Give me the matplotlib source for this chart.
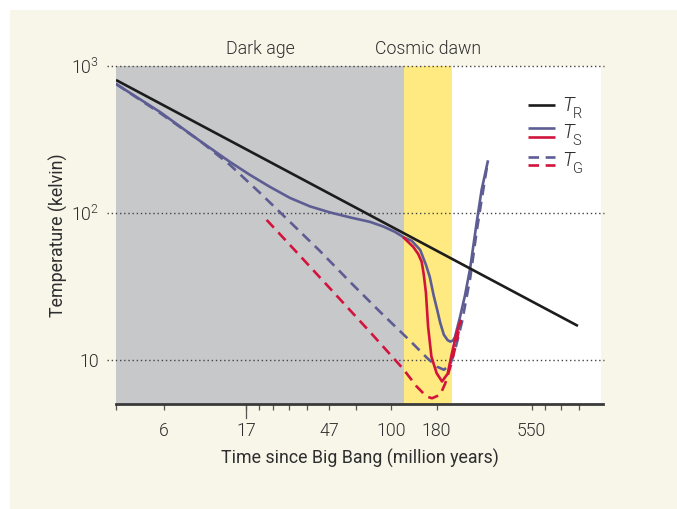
import matplotlib
matplotlib.use('Agg')
import matplotlib.pyplot as plt
from matplotlib.patches import Rectangle
import matplotlib.transforms as mtrans

FAM = 'Roboto'
plt.rcParams['font.family'] = [FAM, 'DejaVu Sans']
plt.rcParams['font.weight'] = 300
plt.rcParams['mathtext.fontset'] = 'custom'
plt.rcParams['mathtext.rm'] = FAM + ':weight=300'
plt.rcParams['mathtext.it'] = FAM + ':italic:weight=300'

# ---------------- data (x = 1+z, y = temperature in kelvin) ----------------
era_names = ['Dark age', 'Cosmic dawn', '']
era_bounds = [294.6, 26.9, 18.0, 5.23]

tr_z = [294.6, 6.33]
tr_T = [803, 17.0]

ts_blue_z = [294.6, 204.4, 146.6, 114.2, 96.7, 81.9, 69.4, 58.7, 49.8, 42.1, 35.7, 32.0, 29.0,
             26.9, 25.2, 23.5, 22.4, 21.7, 21.0, 20.4, 19.9, 19.3, 18.7, 18.3, 17.9, 17.6, 16.9,
             16.2, 15.5, 14.7, 14.1, 13.4]
ts_blue_T = [754.6, 486.6, 309.0, 222.3, 181.3, 150.3, 126.5, 110.7, 100.8, 93.2, 86.9, 80.9, 74.3,
             68.1, 64.5, 56.0, 44.3, 36.7, 27.3, 21.9, 17.9, 14.8, 13.6, 13.3, 13.5, 14.3, 19.3,
             27.3, 42.3, 85.5, 143.4, 223.4]

tg_blue_z = [294.6, 204.4, 146.6, 114.2, 89.0, 69.4, 54.1, 42.1, 32.8, 25.6, 22.2, 20.4,
             19.3, 18.3, 17.5, 16.6, 15.5, 14.7, 14.1, 13.4]
tg_blue_T = [754.6, 478.8, 309.0, 212.1, 136.8, 86.9, 55.1, 33.9, 21.2, 13.5, 10.3, 8.96,
             8.55, 9.25, 12.1, 18.1, 36.1, 74.3, 122.6, 222.3]

ts_red_z = [26.9, 24.9, 23.9, 23.2, 22.8, 22.4, 22.0, 21.4, 20.5, 19.6, 18.7, 18.1, 17.4, 16.8]
ts_red_T = [67.6, 58.7, 52.6, 46.4, 37.9, 28.6, 16.8, 10.5, 8.12, 7.12, 8.03, 10.8, 15.0, 18.4]

tg_red_z = [84.2, 63.8, 46.6, 35.7, 27.1, 24.2, 22.3, 21.3, 19.9, 19.1, 18.1, 17.4, 16.8]
tg_red_T = [89.6, 51.0, 26.8, 15.5, 8.69, 6.58, 5.63, 5.47, 5.78, 6.87, 9.54, 13.0, 18.1]

xtick_z = [198, 100, 50, 30, 20.5, 9.3]
xtick_labels = ['6', '17', '47', '100', '180', '550']
xminor_z = [294.6, 90, 80, 70, 60, 40, 8.3, 7.3, 6.3]
ytick_vals = [10, 100, 1000]
ytick_labels = ['10', '$10^2$', '$10^3$']

# ---------------- style ----------------
CREAM = '#f8f5e9'
GRAY = '#c7c8ca'
YELLOW = '#feea80'
BLACK = '#1c1c1c'
BLUE = '#5e5d93'
RED = '#d2143c'
TXT = '#2e2e2e'
FS = 12.8

W, H = 677, 509
fig = plt.figure(figsize=(W / 100, H / 100), dpi=100, facecolor='white')
fig.patches.append(Rectangle((10 / W, 0), 1, 1 - 10 / H, transform=fig.transFigure,
                             facecolor=CREAM, edgecolor='none', zorder=-10))

L, R, T, B = 116, 603, 66, 404
ax = fig.add_axes([L / W, 1 - B / H, (R - L) / W, (B - T) / H])
ax.set_facecolor('none')
ax.set_xscale('log')
ax.set_yscale('log')
ax.set_xlim(era_bounds[0], 5.14)
ax.set_ylim(5, 1000)

# era backgrounds
ax.axvspan(era_bounds[0], era_bounds[1], color=GRAY, lw=0, zorder=0)
ax.axvspan(era_bounds[1], era_bounds[2], color=YELLOW, lw=0, zorder=0)
ax.axvspan(era_bounds[2], era_bounds[3], color='white', lw=0, zorder=0)

blend = mtrans.blended_transform_factory(ax.transData, ax.transAxes)
for i in range(2):
    xc = (era_bounds[i] * era_bounds[i + 1]) ** 0.5
    ax.text(xc, 1.05, era_names[i], transform=blend, ha='center', va='center',
            fontsize=FS, color=TXT)

# dotted grid lines (extend a little to the left of the plot)
yblend = mtrans.blended_transform_factory(ax.transAxes, ax.transData)
for v in ytick_vals:
    ax.plot([-9 / (R - L), 1.002], [v, v], transform=yblend, clip_on=False,
            color='#444444', lw=1.0, ls=(0, (1, 2)), zorder=1)

# curves
lw = 1.9
ax.plot(tr_z, tr_T, color=BLACK, lw=lw, zorder=5, solid_capstyle='butt')
ax.plot(tg_blue_z, tg_blue_T, color=BLUE, lw=lw, ls=(0, (4, 2.5)), zorder=3)
ax.plot(tg_red_z, tg_red_T, color=RED, lw=lw, ls=(0, (4, 2.5)), zorder=3)
ax.plot(ts_blue_z, ts_blue_T, color=BLUE, lw=lw, zorder=4)
ax.plot(ts_red_z, ts_red_T, color=RED, lw=lw, zorder=4)

# axes / ticks
for s in ['left', 'right', 'top']:
    ax.spines[s].set_visible(False)
ax.spines['bottom'].set_color('#3a3a3a')
ax.spines['bottom'].set_linewidth(2.0)
ax.spines['bottom'].set_zorder(6)

ax.set_xticks(xtick_z)
ax.set_xticklabels(xtick_labels)
ax.set_xticks(xminor_z, minor=True)
ax.xaxis.set_minor_formatter(matplotlib.ticker.NullFormatter())
ax.tick_params(axis='x', which='both', direction='out', length=4.3, width=0.9,
               color='#555555', labelsize=FS, labelcolor=TXT, pad=9)
ax.plot([100, 100], [0, -14 / (B - T)], transform=blend, clip_on=False,
        color='#555555', lw=0.9, zorder=6)

ax.set_yticks(ytick_vals)
ax.set_yticklabels(ytick_labels)
ax.yaxis.set_minor_locator(matplotlib.ticker.NullLocator())
ax.tick_params(axis='y', which='both', length=0, labelsize=FS, labelcolor=TXT, pad=12)

ax.set_xlabel('Time since Big Bang (million years)', fontsize=FS, color=TXT, labelpad=6)
ax.set_ylabel('Temperature (kelvin)', fontsize=FS, color=TXT, labelpad=2.5)

# legend (drawn manually)
def ay(py):
    return (B - py) / (B - T)

def axx(px):
    return (px - L) / (R - L)

lx = [axx(528), axx(555)]
ax.plot(lx, [ay(105)] * 2, transform=ax.transAxes, color=BLACK, lw=lw, solid_capstyle='butt')
ax.plot(lx, [ay(128.3)] * 2, transform=ax.transAxes, color=BLUE, lw=lw, solid_capstyle='butt')
ax.plot(lx, [ay(137.3)] * 2, transform=ax.transAxes, color=RED, lw=lw, solid_capstyle='butt')
ax.plot(lx, [ay(156.7)] * 2, transform=ax.transAxes, color=BLUE, lw=lw, ls=(0, (4, 2.5)))
ax.plot(lx, [ay(165)] * 2, transform=ax.transAxes, color=RED, lw=lw, ls=(0, (4, 2.5)))
for ty, sy, sub in [(105.5, 113.5, 'R'), (132.5, 141, 'S'), (160, 169, 'G')]:
    ax.text(axx(562), ay(ty), 'T', transform=ax.transAxes, style='italic', fontsize=14.5,
            color=TXT, ha='left', va='center')
    ax.text(axx(572.5), ay(sy), sub, transform=ax.transAxes, fontsize=10.5,
            color=TXT, ha='left', va='center')

fig.savefig('out.png', dpi=100, facecolor=fig.get_facecolor())
